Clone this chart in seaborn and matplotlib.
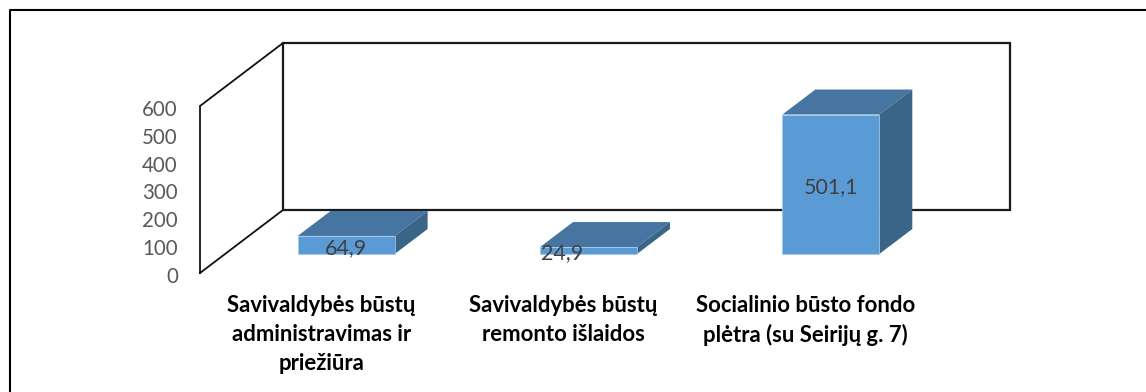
import matplotlib
matplotlib.use("Agg")
import matplotlib.pyplot as plt
import seaborn as sns
import pandas as pd
from matplotlib.patches import Polygon, Rectangle
from matplotlib.lines import Line2D
from matplotlib.transforms import Affine2D, IdentityTransform

categories = ["Savivaldybės būstų\nadministravimas ir\npriežiūra",
              "Savivaldybės būstų\nremonto išlaidos",
              "Socialinio būsto fondo\nplėtra (su Seirijų g. 7)"]
values = [64.9, 24.9, 501.1]
value_labels = ["64,9", "24,9", "501,1"]
y_ticks = [0, 100, 200, 300, 400, 500, 600]

W, H = 1146, 392
FRONT, TOP, SIDE = "#5B9BD5", "#4575A0", "#3A6587"
sns.set_theme(style="white")
plt.rcParams["font.family"] = ["Lato", "DejaVu Sans"]

fig = plt.figure(figsize=(W / 100, H / 100), dpi=100, facecolor="white")
# front plane of the 3D box, in pixels from the top left
L, R, T, B = 200, 927, 106, 273
ax = fig.add_axes([L / W, 1 - B / H, (R - L) / W, (B - T) / H])
ax.set_zorder(2)
ax.patch.set_alpha(0)
df = pd.DataFrame({"c": categories, "v": values})
sns.barplot(data=df, x="c", y="v", color=FRONT, saturation=1, width=0.4, ax=ax, zorder=3)
ax.set_xlim(-0.5, 2.5)
ax.set_ylim(0, 600)
ax.set_yticks(y_ticks)
ax.set_xlabel("")
ax.set_ylabel("")
for s in ax.spines.values():
    s.set_visible(False)
ax.tick_params(axis="y", length=0, pad=16, labelsize=14.8, labelcolor="#595959")
ax.tick_params(axis="x", length=0, pad=15.5)
nudge = Affine2D().translate(0, -2)
for t in ax.get_yticklabels():
    t.set_transform(t.get_transform() + nudge)
for t in ax.get_xticklabels():
    t.set_fontsize(15.9)
    t.set_fontweight("bold")
    t.set_color("black")
    t.set_linespacing(1.47)
    t.set_verticalalignment("top")

fig.canvas.draw()
DX, DY = 83, 63          # full depth of the box, px
BX, BY = 25, 19          # where the bars stand inside that depth, px
BAR_DX, BAR_DY = 33, 25  # depth of one bar, px
id_t = IdentityTransform()
offset = Affine2D().translate(BX, BY)

# box: floor edges, left wall and back wall
x0, y0 = ax.transData.transform((-0.5, 0))
x1, y1 = ax.transData.transform((2.5, 600))
wall = dict(color="#111111", lw=1.3, solid_joinstyle="miter", zorder=1, transform=id_t, clip_on=False)
fig.add_artist(Line2D([x0, x0, x0 + DX, x0 + DX, x0], [y0, y1, y1 + DY, y0 + DY, y0], **wall))
fig.add_artist(Rectangle((x0 + DX, y0 + DY), x1 - x0, y1 - y0, fill=False, ec="#1a1a1a", lw=1.6,
                         zorder=1, transform=id_t, clip_on=False))

# bars: the seaborn front faces, moved into the box, with top and side faces
label_dx = [0, -26, 0]
for p, txt, dx in zip(ax.patches, value_labels, label_dx):
    p.set_clip_on(False)
    p.set_edgecolor("#A9C8E8")
    p.set_linewidth(0.5)
    (xa, ya), (xb, yb) = p.get_window_extent(ax.figure.canvas.get_renderer()).get_points()
    xa, xb, ya, yb = xa + BX, xb + BX, ya + BY, yb + BY
    p.set_transform(ax.transData + offset)
    ax.add_artist(Polygon([(xa, yb), (xb, yb), (xb + BAR_DX, yb + BAR_DY), (xa + BAR_DX, yb + BAR_DY)],
                          fc=TOP, ec="none", transform=id_t, zorder=2.9, clip_on=False))
    ax.add_artist(Polygon([(xb, ya), (xb, yb), (xb + BAR_DX, yb + BAR_DY), (xb + BAR_DX, ya + BAR_DY)],
                          fc=SIDE, ec="none", transform=id_t, zorder=2.9, clip_on=False))
    ax.text((xa + xb) / 2 + dx, (ya + yb) / 2 - 3, txt, transform=id_t, ha="center", va="center",
            fontsize=15.5, color="#404040", zorder=5, clip_on=False)

# outer frame of the picture: only top and left edges show
fig.add_artist(Line2D([9.5, 9.5, W], [0, H - 9.5, H - 9.5], color="black", lw=1.5,
                      transform=id_t, zorder=0))
fig.savefig("out.png", dpi=100)
